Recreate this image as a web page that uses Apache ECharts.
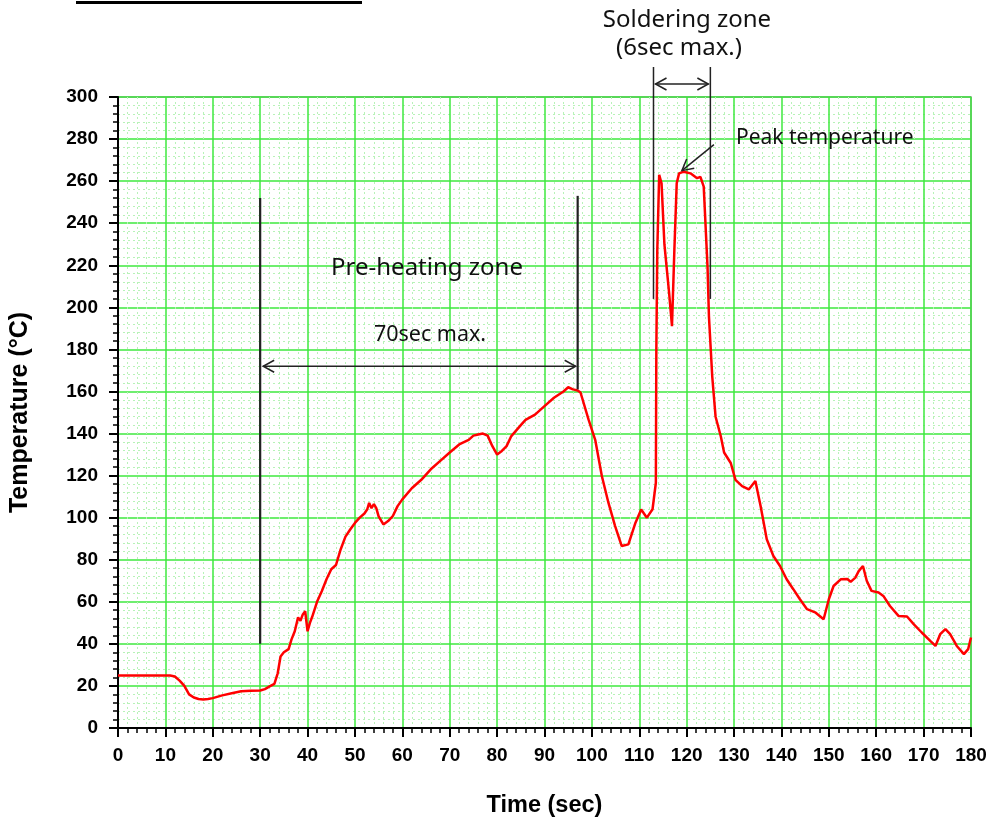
<!DOCTYPE html>
<html>
<head>
<meta charset="utf-8">
<script src="https://cdn.jsdelivr.net/npm/echarts@6/dist/echarts.min.js"></script>
<style>html,body{margin:0;padding:0;background:#fff}#c{width:990px;height:823px}</style>
</head>
<body>
<div id="c"></div>
<script>
// Time (sec)
var times = [0,5,10,11,12,13,14,15,16,17,18,19,20,22,24,26,28,30,31,32,33,33.7,34.3,35,36,36.6,37.3,38,38.5,39,39.5,40,40.5,41,42,43,44,45,46,47,48,49,50,51,52,52.6,53,53.5,54,54.5,55,56,57,58,59,60,62,64,66,68,70,72,74,75,76,77,78,79,80,81,82,83,85,86,88,90,92,94,95,96,97,97.6,99.3,100.7,102.1,103.5,104.9,106.3,107.7,109.2,110.4,111.6,112.8,113.5,113.6,113.8,114.2,114.7,115.3,116.3,116.9,117.4,117.9,118.4,119.4,120.8,122.2,122.9,123.6,124.4,124.7,125.4,126.1,127.2,127.9,129.3,130.3,131.7,133.1,134.5,135.6,136.9,138.3,139.7,141.1,142.5,143.9,145.4,147.1,148.9,150,151,152.5,153.9,154.6,155.6,156.3,157.2,158,159,160.5,161.5,162.9,164.7,166.5,167.9,169.6,171.4,172.5,173.5,174.6,175.6,177,178.5,179.4,180];
// Temperature (°C)
var temps = [25,25,25,25,24.5,22.5,20,16,14.5,13.8,13.5,13.8,14.2,15.5,16.5,17.5,17.7,17.8,18.5,19.8,21,26,34,36,37.5,42,46,52.6,51,54,55.5,46,50,53,60,65,70.7,75.5,77.5,85,91,94.4,97.5,100,102,104,107,104.5,106.5,104.5,100.6,96.8,98.4,100.8,105.5,108.7,114,118,123,127,131,134.8,137,139,139.5,140,139,134,130,131.7,134,138.8,144,146.5,149,153,157,160,162,161,160.5,159.5,146.6,137,119.8,107,96,86.5,87.3,97.6,103.9,100,104,116.6,180,227,263,259,230,206.8,191,227,259,263.7,264.5,263.7,261.4,262,257.4,219.4,195.7,167,148,138.7,131,126,118,115,113.4,117.4,105.5,89.7,81.8,77,70.7,66,61.2,56.5,55,51.7,61.2,67.5,70.7,70.8,69.5,71.5,74.6,77,70,65.2,64.4,62.8,58,53.3,53,49.4,45.4,41.4,39,44.6,47,44.6,39,35.1,37.5,43];
// Annotation anchors (data coords)
var preheatStart = 30, preheatEnd = 97;
var solderStart = 113, solderEnd = 125;
var peakPoint = [119, 265];

var chart = echarts.init(document.getElementById('c'));
var pts = times.map(function(t,i){return [t,temps[i]];});
var axisFont = {fontFamily:'Liberation Sans, Arial', fontWeight:'bold', fontSize:19, color:'#000'};
var nameFont = {fontFamily:'Liberation Sans, Arial',fontWeight:'bold',color:'#000'};
chart.setOption({
  animation:false,
  grid:{left:117,right:19,top:97,bottom:94,show:true,borderColor:'#888',borderWidth:1.5},
  xAxis:{type:'value',min:0,max:180,interval:10,
    name:'Time (sec)',nameLocation:'middle',nameGap:66,
    nameTextStyle:Object.assign({fontSize:23.5},nameFont),
    axisLine:{show:true,onZero:false,lineStyle:{color:'#000',width:2}},
    axisTick:{show:true,inside:false,length:9,lineStyle:{color:'#000',width:2}},
    minorTick:{show:true,splitNumber:5,length:5,lineStyle:{color:'#000',width:1.5}},
    axisLabel:Object.assign({margin:18},axisFont),
    splitLine:{show:true,lineStyle:{color:'#3ee83e',width:1.5}},
    minorSplitLine:{show:true,lineStyle:{color:'#b8f2b8',width:1,type:[2,3]}}
  },
  yAxis:{type:'value',min:0,max:300,interval:20,
    name:'Temperature (°C)',nameLocation:'middle',nameGap:85,nameRotate:90,
    nameTextStyle:Object.assign({fontSize:25},nameFont),
    axisLine:{show:true,lineStyle:{color:'#000',width:2}},
    axisTick:{show:true,inside:false,length:9,lineStyle:{color:'#000',width:2}},
    minorTick:{show:true,splitNumber:5,length:5,lineStyle:{color:'#000',width:1.5}},
    axisLabel:Object.assign({margin:20},axisFont),
    splitLine:{show:true,lineStyle:{color:'#3ee83e',width:1.5}},
    minorSplitLine:{show:true,lineStyle:{color:'#b8f2b8',width:1,type:[2,3]}}
  },
  series:[{type:'line',data:pts,showSymbol:false,smooth:false,
    lineStyle:{color:'#ff0000',width:2.5},z:5}]
});

function P(x,y){return chart.convertToPixel({gridIndex:0},[x,y]);}
function arrowHead(tip, dx, dy){
  var L=11, W=6;
  var bx=tip[0]-dx*L, by=tip[1]-dy*L;
  var nx=-dy, ny=dx;
  return {type:'polyline',shape:{points:[[bx+nx*W,by+ny*W],tip,[bx-nx*W,by-ny*W]]},style:{stroke:'#222',lineWidth:1.5,fill:null},z:20};
}
var a1=P(preheatStart,252), a2=P(preheatStart,40);
var b1=P(preheatEnd,253), b2=P(preheatEnd,161);
var arY=P(0,172)[1];
var arL=P(preheatStart,0)[0]+3, arR=P(preheatEnd,0)[0]-2;
var s1=P(solderStart,204), s2=P(solderEnd,204);
var topY=67, sArY=84;
var pk=P(peakPoint[0],peakPoint[1]);
var pkFrom=[pk[0]+32,pk[1]-26];
var d=Math.hypot(pk[0]-pkFrom[0],pk[1]-pkFrom[1]);
var ux=(pk[0]-pkFrom[0])/d, uy=(pk[1]-pkFrom[1])/d;
var txt={fontFamily:'Noto Sans, Open Sans, sans-serif',fill:'#111'};
chart.setOption({graphic:[
  {type:'line',shape:{x1:76,y1:2.5,x2:362,y2:2.5},style:{stroke:'#000',lineWidth:3}},
  {type:'line',shape:{x1:a1[0],y1:a1[1],x2:a2[0],y2:a2[1]},style:{stroke:'#222',lineWidth:2.2},z:20},
  {type:'line',shape:{x1:b1[0],y1:b1[1],x2:b2[0],y2:b2[1]},style:{stroke:'#222',lineWidth:2.2},z:20},
  {type:'line',shape:{x1:arL,y1:arY,x2:arR,y2:arY},style:{stroke:'#222',lineWidth:1.5},z:20},
  arrowHead([arL,arY],-1,0), arrowHead([arR,arY],1,0),
  {type:'text',x:427,y:268,style:Object.assign({text:'Pre-heating zone',fontSize:24,align:'center',verticalAlign:'middle'},txt),z:20},
  {type:'text',x:430,y:335,style:Object.assign({text:'70sec max.',fontSize:21.5,align:'center',verticalAlign:'middle'},txt),z:20},
  {type:'line',shape:{x1:s1[0],y1:topY,x2:s1[0],y2:s1[1]},style:{stroke:'#222',lineWidth:1.5},z:20},
  {type:'line',shape:{x1:s2[0],y1:topY,x2:s2[0],y2:s2[1]},style:{stroke:'#222',lineWidth:1.5},z:20},
  {type:'line',shape:{x1:s1[0]+2,y1:sArY,x2:s2[0]-2,y2:sArY},style:{stroke:'#222',lineWidth:1.5},z:20},
  arrowHead([s1[0]+2,sArY],-1,0), arrowHead([s2[0]-2,sArY],1,0),
  {type:'text',x:687,y:20,style:Object.assign({text:'Soldering zone',fontSize:24,align:'center',verticalAlign:'middle'},txt),z:20},
  {type:'text',x:679,y:48,style:Object.assign({text:'(6sec max.)',fontSize:24,align:'center',verticalAlign:'middle'},txt),z:20},
  {type:'line',shape:{x1:pkFrom[0],y1:pkFrom[1],x2:pk[0],y2:pk[1]},style:{stroke:'#222',lineWidth:1.5},z:20},
  arrowHead(pk,ux,uy),
  {type:'text',x:736,y:138,style:Object.assign({text:'Peak temperature',fontSize:21,align:'left',verticalAlign:'middle'},txt),z:20}
]});
</script>
</body>
</html>
